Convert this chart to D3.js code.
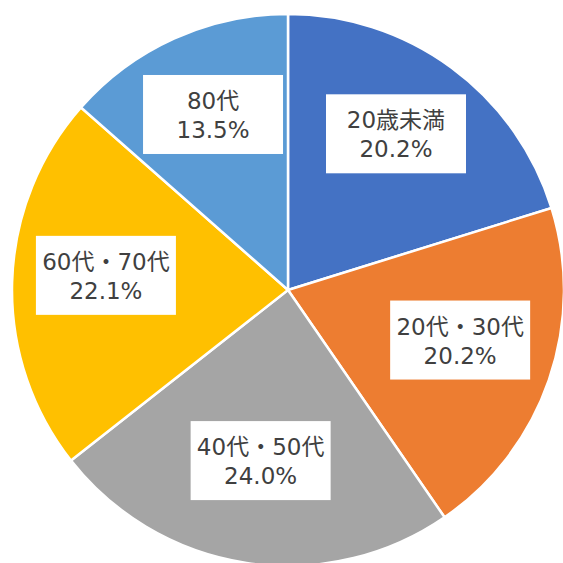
<!DOCTYPE html>
<html>
<head>
<meta charset="utf-8">
<script src="https://cdn.jsdelivr.net/npm/d3@7"></script>
<style>
  html, body { margin: 0; padding: 0; background: #fff; }
  svg { display: block; }
</style>
</head>
<body>
<svg></svg>
<script>
// Data
const categories = ["20歳未満", "20代・30代", "40代・50代", "60代・70代", "80代"];
const values = [20.2, 20.2, 24.0, 22.1, 13.5];
const colors = ["#4472C4", "#ED7D31", "#A5A5A5", "#FFC000", "#5B9BD5"];

// Sizes
const W = 563, H = 563;
const cx = 288, cy = 290, r = 276;

const svg = d3.select("svg")
  .attr("width", W)
  .attr("height", H)
  .append("g")
    .attr("transform", `translate(${cx}, ${cy})`);

const pie = d3.pie().sort(null).value(d => d.v);
const arcs = pie(categories.map((c, i) => ({ c, v: values[i], col: colors[i] })));

const arc = d3.arc().innerRadius(0).outerRadius(r);
const labelArc = d3.arc().innerRadius(r * 0.66).outerRadius(r * 0.66);

// Slices
svg.selectAll("path")
  .data(arcs)
  .enter()
  .append("path")
    .attr("d", arc)
    .attr("fill", d => d.data.col)
    .attr("stroke", "#fff")
    .attr("stroke-width", 2.5);

// Labels (boxes sit a little above the centroid, like the original)
const lab = svg.selectAll("g.lab")
  .data(arcs)
  .enter()
  .append("g")
    .attr("class", "lab")
    .attr("transform", d => {
      const [x, y] = labelArc.centroid(d);
      return `translate(${x}, ${y - 10})`;
    });

lab.append("rect").attr("fill", "#fff");

const font = "'DejaVu Sans', 'Noto Sans CJK JP', sans-serif";

lab.append("text")
  .attr("class", "l1")
  .attr("text-anchor", "middle")
  .attr("font-family", font)
  .attr("font-size", 23)
  .attr("fill", "#404040")
  .attr("y", -5)
  .text(d => d.data.c);

lab.append("text")
  .attr("class", "l2")
  .attr("text-anchor", "middle")
  .attr("font-family", font)
  .attr("font-size", 23)
  .attr("fill", "#404040")
  .attr("y", 24)
  .text(d => d.data.v.toFixed(1) + "%");

lab.each(function() {
  const g = d3.select(this);
  const w1 = g.select("text.l1").node().getComputedTextLength();
  const w = Math.max(w1 + 10, 140);
  g.select("rect")
    .attr("x", -w / 2)
    .attr("y", -39)
    .attr("width", w)
    .attr("height", 79);
});
</script>
</body>
</html>
